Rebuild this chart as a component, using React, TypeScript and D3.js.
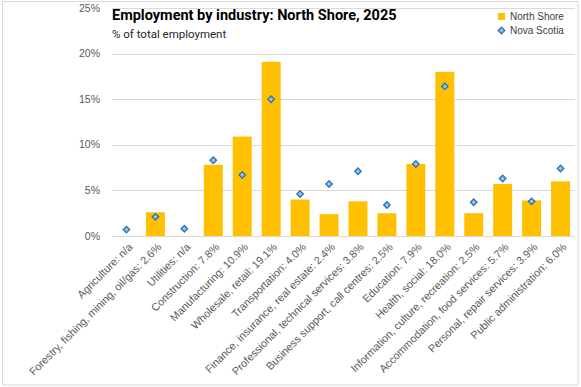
import { useEffect, useRef } from 'react';
import * as d3 from 'd3';

const W = 581
const H = 387
const margin = { top: 8, right: 6, bottom: 151, left: 112 }
const width = 575 - margin.left
const height = 236 - margin.top

const categories = [
  'Agriculture: n/a',
  'Forestry, fishing, mining, oil/gas: 2.6%',
  'Utilities: n/a',
  'Construction: 7.8%',
  'Manufacturing: 10.9%',
  'Wholesale, retail: 19.1%',
  'Transportation: 4.0%',
  'Finance, insurance, real estate: 2.4%',
  'Professional, technical services: 3.8%',
  'Business support, call centres: 2.5%',
  'Education: 7.9%',
  'Health, social: 18.0%',
  'Information, culture, recreation: 2.5%',
  'Accommodation, food services: 5.7%',
  'Personal, repair services: 3.9%',
  'Public administration: 6.0%',
]

// null = n/a
const northShore: (number | null)[] = [null, 2.6, null, 7.8, 10.9, 19.1, 4.0, 2.4, 3.8, 2.5, 7.9, 18.0, 2.5, 5.7, 3.9, 6.0]
const novaScotia = [0.7, 2.1, 0.8, 8.3, 6.7, 15.0, 4.6, 5.7, 7.1, 3.4, 7.9, 16.4, 3.7, 6.3, 3.8, 7.4]

const yTicks = [0, 5, 10, 15, 20, 25]

const barColor = '#ffc000'
const diamondFill = '#9dc3e6'
const diamondStroke = '#2e75b6'
const axisFont = '"Liberation Sans", Arial, sans-serif'

const App = () => {
  const d3svg = useRef<SVGSVGElement>(null)

  useEffect(() => {
    if (!d3svg.current) return
    const root = d3.select(d3svg.current)
    root.selectAll('*').remove()

    // chart border
    root.append('rect')
      .attr('x', 2.5).attr('y', 1.5)
      .attr('width', 575.5).attr('height', 383.5)
      .attr('fill', '#fff')
      .attr('stroke', '#d9d9d9')

    const xScale = d3.scaleBand()
      .domain(categories)
      .range([0, width])
      .paddingInner(0.345)
      .paddingOuter(0.1725)

    const yScale = d3.scaleLinear()
      .domain([0, 25])
      .range([height, 0])

    const svg = root.append('g').attr('transform', `translate(${margin.left}, ${margin.top})`)

    // gridlines
    svg.selectAll('.grid')
      .data(yTicks)
      .enter()
      .append('line')
      .attr('x1', 0)
      .attr('x2', width)
      .attr('y1', d => Math.round(yScale(d)) + 0.5)
      .attr('y2', d => Math.round(yScale(d)) + 0.5)
      .attr('stroke', '#d9d9d9')

    // y labels
    svg.selectAll('.ylab')
      .data(yTicks)
      .enter()
      .append('text')
      .attr('x', -12)
      .attr('y', d => yScale(d))
      .attr('dy', '0.35em')
      .attr('text-anchor', 'end')
      .style('font-family', axisFont)
      .style('font-size', '10.5px')
      .style('fill', '#595959')
      .text(d => `${d}%`)

    // bars
    svg.selectAll('.bar')
      .data(categories.map((c, i) => ({ c, v: northShore[i] })).filter(d => d.v !== null))
      .enter()
      .append('rect')
      .attr('class', 'bar')
      .attr('x', d => xScale(d.c)!)
      .attr('y', d => yScale(d.v as number))
      .attr('width', xScale.bandwidth())
      .attr('height', d => yScale(0) - yScale(d.v as number))
      .style('fill', barColor)

    // diamonds
    const diamond = d3.symbol().type(d3.symbolDiamond2).size(26)
    svg.selectAll('.pt')
      .data(categories.map((c, i) => ({ c, v: novaScotia[i] })))
      .enter()
      .append('path')
      .attr('d', diamond)
      .attr('transform', d => `translate(${xScale(d.c)! + xScale.bandwidth() / 2}, ${yScale(d.v)})`)
      .style('fill', diamondFill)
      .style('stroke', diamondStroke)
      .style('stroke-width', 1.4)

    // x labels
    svg.selectAll('.xlab')
      .data(categories)
      .enter()
      .append('text')
      .attr('transform', d => `translate(${xScale(d)! + xScale.bandwidth() / 2 + 4}, ${height + 9}) rotate(-45)`)
      .attr('text-anchor', 'end')
      .attr('dy', '0.35em')
      .style('font-family', axisFont)
      .style('font-size', '10.8px')
      .style('fill', '#595959')
      .text(d => d)

    // title
    root.append('text')
      .attr('x', 112).attr('y', 20)
      .style('font-family', 'Roboto, sans-serif')
      .style('font-weight', 'bold')
      .style('font-size', '14.5px')
      .style('fill', '#000')
      .text('Employment by industry: North Shore, 2025')

    root.append('text')
      .attr('x', 112).attr('y', 38)
      .style('font-family', 'Roboto, sans-serif')
      .style('font-size', '11.5px')
      .style('fill', '#262626')
      .text('% of total employment')

    // legend
    const legend = root.append('g').attr('transform', 'translate(498, 0)')
    legend.append('rect')
      .attr('x', 0).attr('y', 13)
      .attr('width', 7).attr('height', 7)
      .style('fill', barColor)
    legend.append('text')
      .attr('x', 12).attr('y', 19.5)
      .style('font-family', axisFont)
      .style('font-size', '10px')
      .style('fill', '#404040')
      .text('North Shore')
    legend.append('path')
      .attr('d', diamond)
      .attr('transform', 'translate(3.5, 30.5)')
      .style('fill', diamondFill)
      .style('stroke', diamondStroke)
      .style('stroke-width', 1.4)
    legend.append('text')
      .attr('x', 12).attr('y', 34)
      .style('font-family', axisFont)
      .style('font-size', '10px')
      .style('fill', '#404040')
      .text('Nova Scotia')
  }, [])

  return (
    <svg
      width={W}
      height={H}
      style={{ position: 'absolute', left: 0, top: 0 }}
      ref={d3svg}
    ></svg>
  )
}

export default App;
